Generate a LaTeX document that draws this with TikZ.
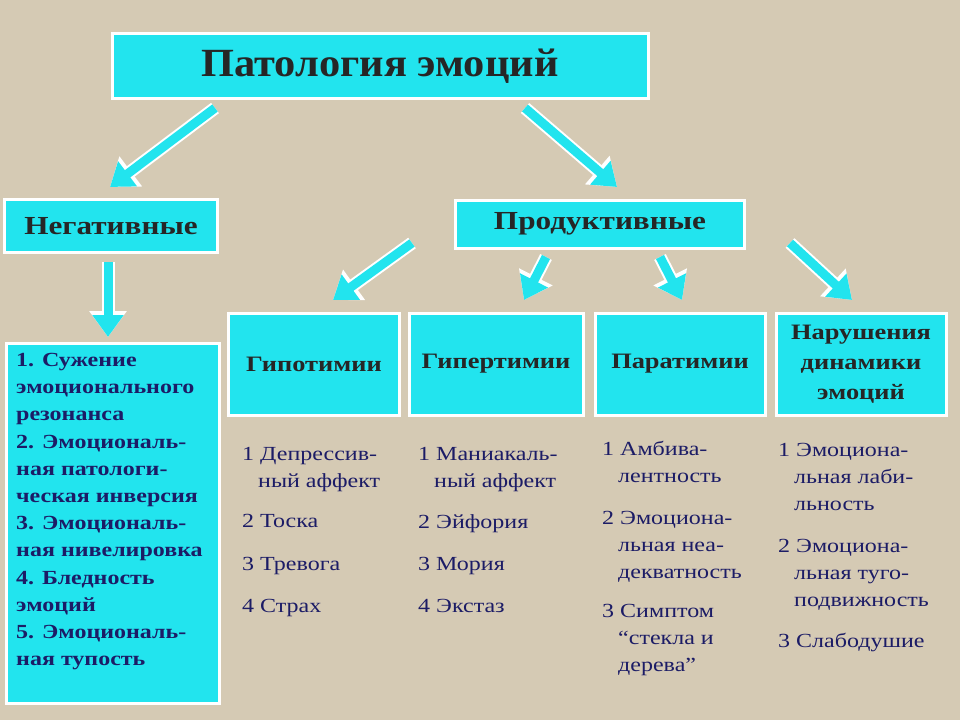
\documentclass[tikz,border=0pt]{standalone}
\usepackage{fontspec}
\setmainfont{Liberation Serif}
\newfontfamily\wide[FakeStretch=1.2]{Liberation Serif}
\newfontfamily\wideb[FakeStretch=1.06]{Liberation Serif}
\usetikzlibrary{arrows.meta}
\definecolor{bg}{HTML}{D5CAB4}
\definecolor{cy}{HTML}{22E4EE}
\definecolor{ink}{HTML}{1C1C66}
\tikzset{
 box/.style={fill=cy,draw=white,line width=3pt,inner sep=0pt,text=black!85},
 item/.style={anchor=north west,align=left,text=ink,font=\wide\fontsize{20}{27}\selectfont,inner sep=0pt},
 fat/.style={line width=9pt,draw=cy,-{Triangle[length=22pt,width=30pt]},
   preaction={draw=white,line width=13pt,-{Triangle[length=26pt,width=36pt]}}}
}
\begin{document}
\begin{tikzpicture}[x=1pt,y=-1pt]
\fill[bg] (0,0) rectangle (960,720);
\node[box,minimum width=536pt,minimum height=65pt,font=\wideb\bfseries\fontsize{40}{42}\selectfont] (t) at (380,66) {Патология эмоций};
\node[box,minimum width=213pt,minimum height=53pt,font=\wide\bfseries\fontsize{26}{28}\selectfont] (n) at (111,226) {Негативные};
\node[box,minimum width=289pt,minimum height=48pt,font=\wide\bfseries\fontsize{26}{28}\selectfont] (p) at (600,224) {Продуктивные};
\foreach \nm/\x/\w/\txt in {g1/314/171/Гипотимии,g2/496/174/Гипертимии,g3/680/170/Паратимии,g4/861/170/{Нарушения\\динамики\\эмоций}}
  \node[box,minimum width=\w pt,minimum height=102pt,align=center,font=\wide\bfseries\fontsize{22}{30}\selectfont] (\nm) at (\x,364) {\txt};
\node[box,minimum width=213pt,minimum height=360pt] (l) at (113,523) {};
\node[item,font=\wide\bfseries\fontsize{20}{27.2}\selectfont] (lt) at (16,353) {1. Сужение\\эмоционального\\резонанса\\2. Эмоциональ-\\ная патологи-\\ческая инверсия\\3. Эмоциональ-\\ная нивелировка\\4. Бледность\\эмоций\\5. Эмоциональ-\\ная тупость};
\node[item] (a1) at (242,447) {1 Депрессив-\\\hspace*{16pt}ный аффект};
\node[item] (a2) at (242,514) {2 Тоска};
\node[item] (a3) at (242,557) {3 Тревога};
\node[item] (a4) at (242,599) {4 Страх};
\node[item] (b1) at (418,447) {1 Маниакаль-\\\hspace*{16pt}ный аффект};
\node[item] (b2) at (418,514) {2 Эйфория};
\node[item] (b3) at (418,557) {3 Мория};
\node[item] (b4) at (418,599) {4 Экстаз};
\node[item] (c1) at (602,441) {1 Амбива-\\\hspace*{16pt}лентность};
\node[item] (c2) at (602,511) {2 Эмоциона-\\\hspace*{16pt}льная неа-\\\hspace*{16pt}декватность};
\node[item] (c3) at (602,604) {3 Симптом\\\hspace*{16pt}“стекла и\\\hspace*{16pt}дерева”};
\node[item] (d1) at (778,443) {1 Эмоциона-\\\hspace*{16pt}льная лаби-\\\hspace*{16pt}льность};
\node[item] (d2) at (778,539) {2 Эмоциона-\\\hspace*{16pt}льная туго-\\\hspace*{16pt}подвижность};
\node[item] (d3) at (778,633) {3 Слабодушие};
\coordinate (s1) at (215,108); \coordinate (e1) at (110,187);
\coordinate (s2) at (525,108); \coordinate (e2) at (617,187);
\coordinate (s3) at (108,262); \coordinate (e3) at (108,337);
\coordinate (s4) at (412,243); \coordinate (e4) at (333,300);
\coordinate (s5) at (546,257); \coordinate (e5) at (524,300);
\coordinate (s6) at (660,257); \coordinate (e6) at (682,300);
\coordinate (s7) at (790,243); \coordinate (e7) at (852,300);
\foreach \i in {1,...,7} \draw[fat] (s\i) -- (e\i);
\end{tikzpicture}
\end{document}
